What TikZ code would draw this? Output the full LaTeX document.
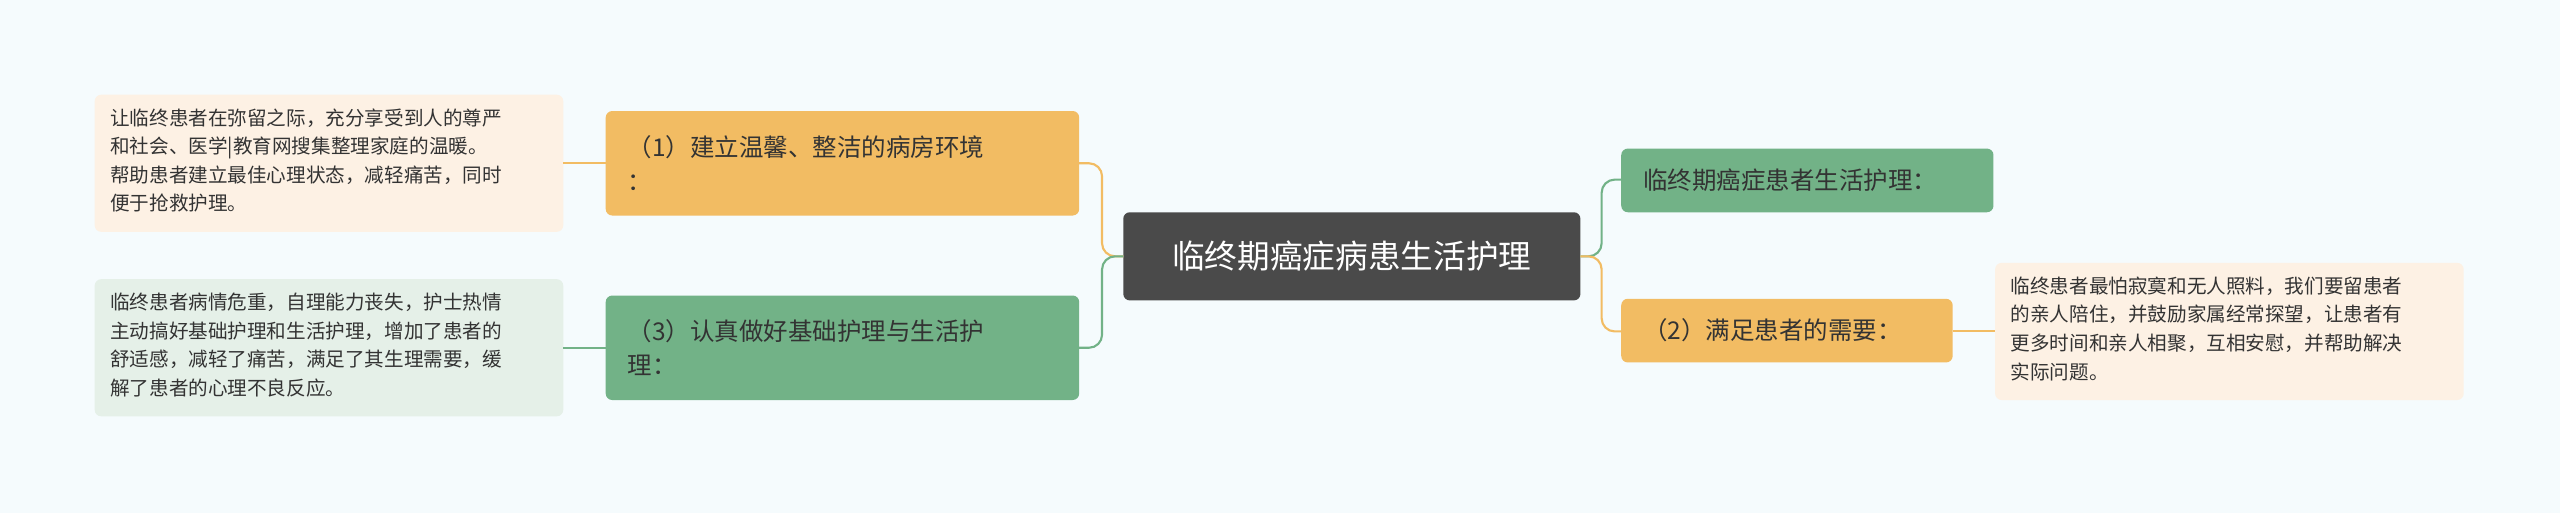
\documentclass[tikz,border=0pt]{standalone}
\usepackage{fontspec}
\setmainfont{Noto Sans CJK SC}
\definecolor{bg}{HTML}{F5FBFD}
\definecolor{org}{HTML}{F2BC63}
\definecolor{grn}{HTML}{72B287}
\definecolor{lorg}{HTML}{FDF1E4}
\definecolor{lgrn}{HTML}{E5F0E8}
\definecolor{ctr}{HTML}{4A4A4A}
\definecolor{txt}{HTML}{333333}
\begin{document}
\begin{tikzpicture}[x=1pt,y=-1pt,
 box/.style={rounded corners=4pt,inner sep=0pt,anchor=north west},
 btxt/.style={font=\fontsize{15}{21}\selectfont,text=txt,align=left,anchor=west},
 ltxt/.style={font=\fontsize{12}{17.5}\selectfont,text=txt,align=left,anchor=north west},
 con/.style={line width=1.3pt,rounded corners=8pt}]
\fill[bg] (0,0) rectangle (1568,314);
\useasboundingbox (0,0) rectangle (1568,314);
% center
\fill[ctr,rounded corners=4pt] (688,130) rectangle (968,184);
\node[font=\fontsize{20}{24}\selectfont,text=white] (c) at (828,157) {临终期癌症病患生活护理};
\coordinate (cl) at (688,157); \coordinate (cr) at (968,157);
% left branches
\fill[org,rounded corners=4pt] (371,68) rectangle (661,132);
\node[btxt] (b1) at (381,100) {（1）建立温馨、整洁的病房环境\\：};
\fill[grn,rounded corners=4pt] (371,181) rectangle (661,245);
\node[btxt] (b3) at (381,213) {（3）认真做好基础护理与生活护\\理：};
\coordinate (b1r) at (661,100); \coordinate (b1l) at (371,100);
\coordinate (b3r) at (661,213); \coordinate (b3l) at (371,213);
\draw[con,org] (cl) -- (675,157) -- (675,100) -- (b1r);
\draw[con,grn] (cl) -- (675,157) -- (675,213) -- (b3r);
% left leaves
\fill[lorg,rounded corners=4pt] (58,58) rectangle (345,142);
\node[ltxt] (l1) at (64,63) {让临终患者在弥留之际，充分享受到人的尊严\\和社会、医学|教育网搜集整理家庭的温暖。\\帮助患者建立最佳心理状态，减轻痛苦，同时\\便于抢救护理。};
\fill[lgrn,rounded corners=4pt] (58,171) rectangle (345,255);
\node[ltxt] (l3) at (64,176) {临终患者病情危重，自理能力丧失，护士热情\\主动搞好基础护理和生活护理，增加了患者的\\舒适感，减轻了痛苦，满足了其生理需要，缓\\解了患者的心理不良反应。};
\coordinate (l1r) at (345,100); \coordinate (l3r) at (345,213);
\draw[line width=1.3pt,org] (b1l) -- (l1r);
\draw[line width=1.3pt,grn] (b3l) -- (l3r);
% right branches
\fill[grn,rounded corners=4pt] (993,91) rectangle (1221,130);
\node[btxt] (r1) at (1003,110.5) {临终期癌症患者生活护理：};
\fill[org,rounded corners=4pt] (993,183) rectangle (1196,222);
\node[btxt] (r2) at (1003,202.5) {（2）满足患者的需要：};
\coordinate (r1l) at (993,110); \coordinate (r2l) at (993,203);
\draw[con,grn] (cr) -- (981,157) -- (981,110) -- (r1l);
\draw[con,org] (cr) -- (981,157) -- (981,203) -- (r2l);
\fill[lorg,rounded corners=4pt] (1222,161) rectangle (1509,245);
\node[ltxt] (l2) at (1228,166) {临终患者最怕寂寞和无人照料，我们要留患者\\的亲人陪住，并鼓励家属经常探望，让患者有\\更多时间和亲人相聚，互相安慰，并帮助解决\\实际问题。};
\coordinate (r2r) at (1196,203); \coordinate (l2l) at (1222,203);
\draw[line width=1.3pt,org] (r2r) -- (l2l);
\end{tikzpicture}
\end{document}
